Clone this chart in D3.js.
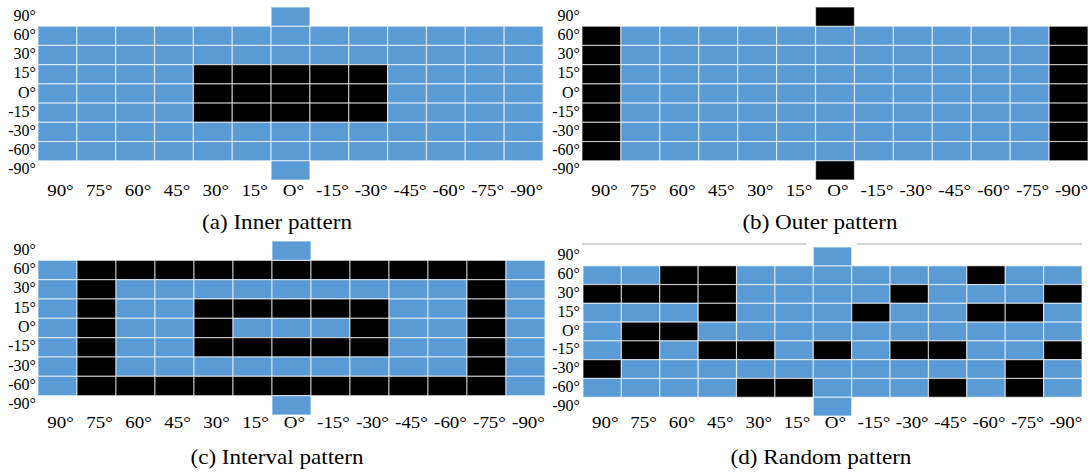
<!DOCTYPE html>
<html><head><meta charset="utf-8">
<script src="https://cdn.jsdelivr.net/npm/d3@7"></script>
<style>body{margin:0;background:#fff}svg{display:block}</style>
</head><body>
<svg id="c" width="1091" height="475" font-family="'Liberation Serif', 'DejaVu Serif', serif"></svg>
<script>
// ---- data ----
const colLabels = ["90°","75°","60°","45°","30°","15°","O°","-15°","-30°","-45°","-60°","-75°","-90°"];
const rowLabels = ["90°","60°","30°","15°","O°","-15°","-30°","-60°","-90°"];
const centerCol = "O°";
// 1 = black, 0 = blue ; rows 60° .. -60°
const innerGrid = [
  "0000000000000","0000000000000","0000111110000","0000111110000","0000111110000","0000000000000","0000000000000"];
const innerPole = [0,0];   // [90°, -90°]
const outerGrid = [
  "1000000000001","1000000000001","1000000000001","1000000000001","1000000000001","1000000000001","1000000000001"];
const outerPole = [1,1];
const intervalGrid = [
  "0111111111110","0100000000010","0100111110010","0100100010010","0100111110010","0100000000010","0111111111110"];
const intervalPole = [0,0];
const randomGrid = [
  "0011000000100","1111000010001","0001000100110","0110000000000","0101101011001","1000000000010","0000110001010"];
const randomPole = [0,0];
const captions = ["(a) Inner pattern","(b) Outer pattern","(c) Interval pattern","(d) Random pattern"];

// ---- layout ----
const panels = [
  {grid:innerGrid, pole:innerPole, cap:captions[0], x0:38, x1:543, y0:7, y1:180, lx:36, capX:277, capY:229, tickY:196},
  {grid:outerGrid, pole:outerPole, cap:captions[1], x0:582, x1:1088, y0:7, y1:180, lx:580, capX:820, capY:229, tickY:196},
  {grid:intervalGrid, pole:intervalPole, cap:captions[2], x0:38, x1:545, y0:241, y1:415, lx:36, capX:277, capY:464, tickY:428},
  {grid:randomGrid, pole:randomPole, cap:captions[3], x0:583, x1:1082, y0:247, y1:416, lx:580, capX:821, capY:464, tickY:428, line:true}
];
const BLUE = "#5B9BD5", BLACK = "#000";
const svg = d3.select("#c");

panels.forEach(p => {
  const g = svg.append("g");
  const x = d3.scaleBand().domain(colLabels).range([p.x0, p.x1]);
  const y = d3.scaleBand().domain(rowLabels).range([p.y0, p.y1]);
  const cells = [];
  p.grid.forEach((r, ri) => r.split("").forEach((v, ci) => cells.push({col:colLabels[ci], row:rowLabels[ri+1], v:+v})));
  cells.push({col:centerCol, row:rowLabels[0], v:p.pole[0]});
  cells.push({col:centerCol, row:rowLabels[8], v:p.pole[1]});

  if (p.line) {
    const ly = p.y0 - 3;
    g.append("line").attr("x1", p.x0 - 1).attr("x2", x(centerCol) - 7).attr("y1", ly).attr("y2", ly).attr("stroke", "#aaa").attr("stroke-width", 1.2);
    g.append("line").attr("x1", x(centerCol) + x.bandwidth() + 5).attr("x2", p.x1).attr("y1", ly).attr("y2", ly).attr("stroke", "#aaa").attr("stroke-width", 1.2);
  }

  g.selectAll("rect").data(cells).join("rect")
    .attr("x", d => x(d.col)).attr("y", d => y(d.row))
    .attr("width", x.bandwidth()).attr("height", y.bandwidth())
    .attr("fill", d => d.v ? BLACK : BLUE)
    .attr("stroke", "#fff").attr("stroke-opacity", 0.6).attr("stroke-width", 1.2);

  g.selectAll("text.yl").data(rowLabels).join("text").attr("class", "yl")
    .attr("x", p.lx).attr("y", d => y(d) + y.bandwidth()/2 + 4)
    .attr("text-anchor", "end").attr("font-size", 16).text(d => d);

  g.selectAll("text.xl").data(colLabels).join("text").attr("class", "xl")
    .attr("transform", d => `translate(${x(d) + x.bandwidth()/2 + 3},${p.tickY}) scale(1.15,1)`)
    .attr("text-anchor", "middle").attr("font-size", 16.5).text(d => d);

  g.append("text").attr("transform", `translate(${p.capX},${p.capY}) scale(1.1,1)`).attr("text-anchor", "middle")
    .attr("font-size", 21).text(p.cap);
});
</script>
</body></html>
